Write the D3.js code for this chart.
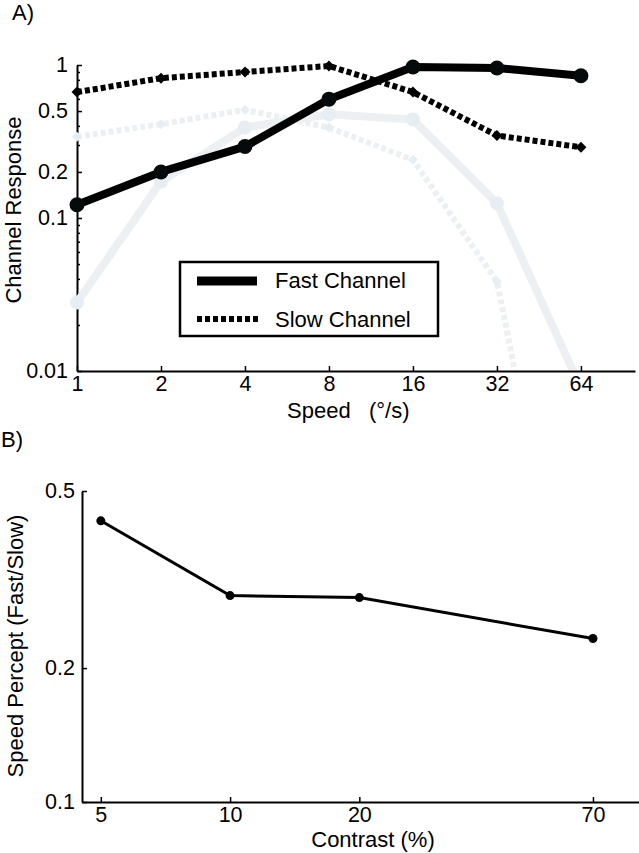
<!DOCTYPE html>
<html>
<head>
<meta charset="utf-8">
<script src="https://cdn.jsdelivr.net/npm/d3@7"></script>
<style>
  html, body { margin: 0; padding: 0; background: #fff; }
  svg { display: block; font-family: "Liberation Sans", Arial, Helvetica, sans-serif; }
</style>
</head>
<body>
<svg id="chart" width="639" height="853"></svg>
<script>
// ---------- Panel A data ----------
const speeds = [1, 2, 4, 8, 16, 32, 64];
const fastChannel = [0.122, 0.20, 0.293, 0.598, 0.97, 0.955, 0.85];
const slowChannel = [0.665, 0.82, 0.90, 0.985, 0.665, 0.346, 0.29];
const fastChannelLight = [0.028, 0.173, 0.39, 0.476, 0.44, 0.125, 0.0077];
const slowChannelLight = [0.34, 0.41, 0.51, 0.39, 0.24, 0.0385, 0.00007];
const xTicksA = [1, 2, 4, 8, 16, 32, 64];
const xTickLabelsA = ["1", "2", "4", "8", "16", "32", "64"];
const yTicksA = [0.01, 0.1, 0.2, 0.5, 1];
const yTickLabelsA = ["0.01", "0.1", "0.2", "0.5", "1"];
const yMinorTicksA = [0.02, 0.03, 0.04, 0.05, 0.06, 0.07, 0.08, 0.09, 0.3, 0.4, 0.6, 0.7, 0.8, 0.9];
const legendLabels = ["Fast Channel", "Slow Channel"];

// ---------- Panel B data ----------
const contrasts = [5, 10, 20, 70];
const speedPercept = [0.4285, 0.291, 0.288, 0.233];
const xTicksB = [5, 10, 20, 70];
const xTickLabelsB = ["5", "10", "20", "70"];
const yTicksB = [0.1, 0.2, 0.5];
const yTickLabelsB = ["0.1", "0.2", "0.5"];

const svg = d3.select("#chart");
const TICK_FS = "21.5px";
const LABEL_FS = "22px";
const lightLine = "#edf0f2";
const lightMark = "#e6eef4";

function styleAxis(g) {
  g.attr("font-family", null).attr("font-size", null);
  g.selectAll(".domain").attr("stroke", "#000").attr("stroke-width", 2);
  g.selectAll(".tick line").attr("stroke", "#000").attr("stroke-width", 1.5);
  g.selectAll(".tick text").attr("fill", "#000").style("font-size", TICK_FS);
}

// ================= Panel A =================
const xA = d3.scaleLog().domain([1, 100]).range([77, 635]);
const yA = d3.scaleLog().domain([0.01, 1]).range([371, 65]);

svg.append("defs").append("clipPath").attr("id", "clipA")
  .append("rect").attr("x", 0).attr("y", 0).attr("width", 639).attr("height", 370);

// axes
const gxA = svg.append("g").attr("transform", "translate(0,371)")
  .call(d3.axisBottom(xA).tickValues(xTicksA).tickFormat((d, i) => xTickLabelsA[i])
    .tickSizeInner(-5).tickSizeOuter(0).tickPadding(5));
styleAxis(gxA);

const gyAminor = svg.append("g").attr("transform", "translate(77,0)")
  .call(d3.axisLeft(yA).tickValues(yMinorTicksA).tickFormat("")
    .tickSizeInner(-3).tickSizeOuter(0));
styleAxis(gyAminor);
gyAminor.select(".domain").remove();

const gyA = svg.append("g").attr("transform", "translate(77,0)")
  .call(d3.axisLeft(yA).tickValues(yTicksA).tickFormat((d, i) => yTickLabelsA[i])
    .tickSizeInner(-5).tickSizeOuter(0).tickPadding(9));
styleAxis(gyA);

// plot content
const plotA = svg.append("g").attr("clip-path", "url(#clipA)");
const lineA = d3.line().x((d, i) => xA(speeds[i])).y(d => yA(d));
const diamond = (cx, cy, r) => `M${cx},${cy - r}L${cx + r},${cy}L${cx},${cy + r}L${cx - r},${cy}Z`;

// light series
plotA.append("path").datum(fastChannelLight).attr("d", lineA)
  .attr("fill", "none").attr("stroke", lightLine).attr("stroke-width", 8).attr("stroke-linejoin", "round");
plotA.append("path").datum(slowChannelLight).attr("d", lineA)
  .attr("fill", "none").attr("stroke", lightLine).attr("stroke-width", 6)
  .attr("stroke-dasharray", "5,3");
plotA.selectAll(".lfm").data(fastChannelLight).join("circle")
  .attr("cx", (d, i) => xA(speeds[i])).attr("cy", d => yA(d)).attr("r", 7).attr("fill", lightMark);
plotA.selectAll(".lsm").data(slowChannelLight).join("path")
  .attr("d", (d, i) => diamond(xA(speeds[i]), yA(d), 5)).attr("fill", lightMark);

// fast channel
plotA.append("path").datum(fastChannel).attr("d", lineA)
  .attr("fill", "none").attr("stroke", "#000").attr("stroke-width", 8).attr("stroke-linejoin", "round");
plotA.selectAll(".fm").data(fastChannel).join("circle")
  .attr("cx", (d, i) => xA(speeds[i])).attr("cy", d => yA(d)).attr("r", 7.5).attr("fill", "#050a0a");

// slow channel
plotA.append("path").datum(slowChannel).attr("d", lineA)
  .attr("fill", "none").attr("stroke", "#000").attr("stroke-width", 6)
  .attr("stroke-dasharray", "5,3");
plotA.selectAll(".sm").data(slowChannel).join("path")
  .attr("d", (d, i) => diamond(xA(speeds[i]), yA(d), 5.5)).attr("fill", "#000");

// legend
const leg = svg.append("g");
leg.append("rect").attr("x", 180).attr("y", 262).attr("width", 258).attr("height", 74)
  .attr("fill", "#fff").attr("stroke", "#000").attr("stroke-width", 2.5);
leg.append("line").attr("x1", 197).attr("x2", 257).attr("y1", 281).attr("y2", 281)
  .attr("stroke", "#000").attr("stroke-width", 9);
leg.append("line").attr("x1", 197).attr("x2", 259).attr("y1", 319).attr("y2", 319)
  .attr("stroke", "#000").attr("stroke-width", 6).attr("stroke-dasharray", "5,3");
leg.selectAll("text").data(legendLabels).join("text")
  .attr("x", 275).attr("y", (d, i) => 288 + i * 39)
  .style("font-size", LABEL_FS).attr("fill", "#000").text(d => d);

// labels
svg.append("text").attr("x", 12).attr("y", 20).style("font-size", LABEL_FS).text("A)");
svg.append("text").attr("x", 287).attr("y", 418).style("font-size", LABEL_FS)
  .style("white-space", "pre").attr("xml:space", "preserve").text("Speed   (°/s)");
svg.append("text").attr("transform", "translate(21,210) rotate(-90)")
  .attr("text-anchor", "middle").style("font-size", LABEL_FS).text("Channel Response");

// ================= Panel B =================
const xB = d3.scaleLog().domain([4.52, 89.6]).range([82, 639]);
const yB = d3.scaleLog().domain([0.1, 0.5]).range([802, 491]);

const gxB = svg.append("g").attr("transform", "translate(0,802)")
  .call(d3.axisBottom(xB).tickValues(xTicksB).tickFormat((d, i) => xTickLabelsB[i])
    .tickSizeInner(-5).tickSizeOuter(0).tickPadding(5));
styleAxis(gxB);

const gyB = svg.append("g").attr("transform", "translate(82,0)")
  .call(d3.axisLeft(yB).tickValues(yTicksB).tickFormat((d, i) => yTickLabelsB[i])
    .tickSizeInner(-5).tickSizeOuter(0).tickPadding(7));
styleAxis(gyB);

const lineB = d3.line().x((d, i) => xB(contrasts[i])).y(d => yB(d));
svg.append("path").datum(speedPercept).attr("d", lineB)
  .attr("fill", "none").attr("stroke", "#000").attr("stroke-width", 3);
svg.selectAll(".bm").data(speedPercept).join("circle")
  .attr("cx", (d, i) => xB(contrasts[i])).attr("cy", d => yB(d)).attr("r", 4.5).attr("fill", "#000");

svg.append("text").attr("x", 1).attr("y", 447).style("font-size", LABEL_FS).text("B)");
svg.append("text").attr("x", 373).attr("y", 847).attr("text-anchor", "middle")
  .style("font-size", LABEL_FS).text("Contrast (%)");
svg.append("text").attr("transform", "translate(23,646) rotate(-90)")
  .attr("text-anchor", "middle").style("font-size", LABEL_FS).text("Speed Percept (Fast/Slow)");
</script>
</body>
</html>
